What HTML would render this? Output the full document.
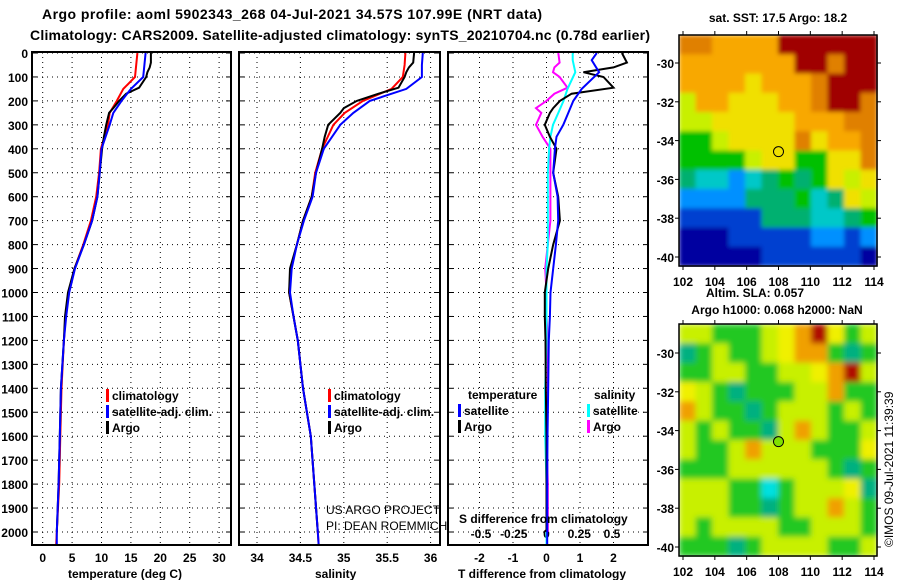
<!DOCTYPE html>
<html><head><meta charset="utf-8">
<style>
body{margin:0;background:#fff;}
svg{display:block;font-family:"Liberation Sans",sans-serif;}
.b{font-weight:bold;font-size:12px;}
.t{font-weight:bold;font-size:14px;}
</style></head>
<body>
<svg id="s" width="900" height="580" viewBox="0 0 900 580">
<defs>
<filter id="blur" x="0" y="0" width="1" height="1"><feGaussianBlur stdDeviation="3" edgeMode="duplicate"/></filter>
<filter id="blur2" x="0" y="0" width="1" height="1"><feGaussianBlur stdDeviation="2" edgeMode="duplicate"/></filter>
</defs>
<text class="t" x="42" y="19" textLength="500">Argo profile: aoml 5902343_268 04-Jul-2021 34.57S 107.99E (NRT data)</text>
<text class="t" x="30" y="40" textLength="620">Climatology: CARS2009. Satellite-adjusted climatology: synTS_20210704.nc (0.78d earlier)</text>
</svg>
<script>
const NS='http://www.w3.org/2000/svg';
const svg=document.getElementById('s');
function el(tag,attrs,parent){const e=document.createElementNS(NS,tag);for(const k in attrs)e.setAttribute(k,attrs[k]);(parent||svg).appendChild(e);return e;}
function txt(x,y,s,cls,anchor,parent){const e=el('text',{x:x,y:y,class:cls||'b','text-anchor':anchor||'start'},parent);e.textContent=s;return e;}

// ---------- data ----------
const depthTicks=[0,100,200,300,400,500,600,700,800,900,1000,1100,1200,1300,1400,1500,1600,1700,1800,1900,2000];
const tempTicks=[0,5,10,15,20,25,30];
const salTicks=[34,34.5,35,35.5,36];
const tdiffTicks=[-2,-1,0,1,2];
const sdiffTicks=[-0.5,-0.25,0,0.25,0.5];

const climDepth=[0,50,100,150,200,250,300,400,500,600,700,800,900,1000,1100,1200,1400,1600,1800,2000,2050];
const tempClim=[16.1,15.9,15.7,13.7,12.6,11.4,11.1,9.9,9.6,9.1,8.2,6.9,5.4,4.4,3.9,3.6,3.2,3.0,2.8,2.4,2.3];
const tempSat=[17.5,17.3,17.1,15.0,13.4,12.0,11.4,10.0,9.7,9.3,8.4,7.0,5.5,4.5,4.0,3.6,3.1,2.9,2.7,2.4,2.4];
const salClim=[35.71,35.70,35.68,35.55,35.22,35.01,34.88,34.75,34.67,34.63,34.53,34.46,34.39,34.37,34.42,34.47,34.53,34.62,34.66,34.70,34.71];
const salSat=[35.91,35.90,35.90,35.72,35.30,35.11,34.96,34.77,34.68,34.64,34.54,34.46,34.40,34.38,34.42,34.47,34.53,34.62,34.66,34.70,34.71];

const argoDepth=[0,40,60,80,100,145,170,200,230,250,300,350,400,500,600,700,800,900,1000,1100,1200,1400,1600,1800,2000];
const tempArgo=[18.4,18.4,18.2,17.8,17.6,16.4,14.2,13.0,12.0,11.3,10.8,10.4,10.1,9.7,9.3,8.4,7.0,5.4,4.3,3.8,3.6,3.1,2.9,2.7,2.4];
const salArgo=[35.81,35.80,35.75,35.72,35.70,35.63,35.40,35.15,35.00,34.96,34.82,34.78,34.75,34.68,34.63,34.53,34.46,34.38,34.37,34.42,34.47,34.53,34.62,34.66,34.70];

const diffDepth=[0,30,80,150,200,250,300,350,400,500,600,700,800,900,1000,1100,1200,1400,1600,1800,2000,2050];
const tdiffSat=[1.5,1.35,1.57,1.05,0.8,0.65,0.5,0.3,0.25,0.2,0.33,0.35,0.28,0.2,0.12,0.1,0.07,0.05,0.03,0.02,0.02,0.02];
const sdiffSat=[0.2,0.2,0.22,0.16,0.13,0.09,0.05,0.03,0.02,0.01,0.01,0.01,0.01,0.0,0.0,0.0,0.0,-0.01,-0.01,0.0,0.0,0.0];
const argoDiffDepth=[0,40,60,80,100,145,170,200,230,250,300,350,400,500,600,700,800,900,1000,1100,1200,1400,1600,1800,2000];
const tdiffArgo=[2.25,2.4,2.0,1.1,1.7,2.0,0.75,0.4,0.2,0.1,-0.05,0.1,0.3,0.2,0.35,0.4,0.2,0.05,-0.05,-0.05,-0.03,-0.02,0.0,0.0,0.0];
const sdiffArgo=[0.09,0.1,0.06,0.05,0.1,0.16,0.06,0.0,-0.08,-0.04,-0.08,-0.03,0.03,0.03,0.03,0.03,0.01,-0.01,0.0,0.0,0.01,0.01,0.0,0.01,0.01];

// ---------- axes ----------
const Y0=52,Y1=545;
const yD=d=>53+d*0.2395;
const xT=v=>42.7+v*5.88;
const xS=v=>257+(v-34)*86.8;
const xTd=v=>546.5+v*33.5;
const xSd=v=>546.5+v*131;
const panels=[[32,231,'temperature-panel'],[239,440,'salinity-panel'],[448,648,'difference-panel']];

function dotted(x1,y1,x2,y2){el('line',{x1,y1,x2,y2,stroke:'#000','stroke-width':1,'stroke-dasharray':'1,4'});}
function series(xs,ds,xf,color,name){
  let d='';xs.forEach((v,i)=>{const x=xf(v),y=yD(ds[i]);d+=(i?'L':'M')+x.toFixed(1)+','+y.toFixed(1);});
  const p=el('path',{d:d,fill:'none',stroke:color,'stroke-width':2});
  
  
}

panels.forEach(([a,b,name])=>{
  depthTicks.forEach(d=>{dotted(a,yD(d),b,yD(d));el('line',{x1:a,y1:yD(d),x2:a+5,y2:yD(d),stroke:'#000'});el('line',{x1:b-5,y1:yD(d),x2:b,y2:yD(d),stroke:'#000'});});
});
tempTicks.forEach(v=>{dotted(xT(v),Y0,xT(v),Y1);const t=txt(xT(v),562,String(v),'b','middle');});
salTicks.forEach(v=>{dotted(xS(v),Y0,xS(v),Y1);const t=txt(xS(v),562,String(v),'b','middle');});
tdiffTicks.forEach(v=>{dotted(xTd(v),Y0,xTd(v),Y1);const t=txt(xTd(v),562,String(v),'b','middle');});
sdiffTicks.forEach(v=>{const t=txt(xSd(v),538,String(v),'b','middle');});
depthTicks.forEach(d=>{const t=txt(28,yD(d)+5,String(d),'b','end');});

series(tempClim,climDepth,xT,'#f00','temp-climatology-line');
series(tempArgo,argoDepth,xT,'#000','temp-argo-line');
series(tempSat,climDepth,xT,'#00f','temp-satellite-line');
series(salClim,climDepth,xS,'#f00','sal-climatology-line');
series(salArgo,argoDepth,xS,'#000','sal-argo-line');
series(salSat,climDepth,xS,'#00f','sal-satellite-line');
series(sdiffArgo,argoDiffDepth,xSd,'#f0f','sdiff-argo-line');
series(sdiffSat,diffDepth,xSd,'#0ff','sdiff-satellite-line');
series(tdiffArgo,argoDiffDepth,xTd,'#000','tdiff-argo-line');
series(tdiffSat,diffDepth,xTd,'#00f','tdiff-satellite-line');

panels.forEach(([a,b,name])=>{const r=el('rect',{x:a,y:Y0,width:b-a,height:Y1-Y0,fill:'none',stroke:'#000','stroke-width':2});});

function legend(x,y,color,label){el('rect',{x:x,y:y-11,width:3,height:13,fill:color});txt(x+6,y,label);}
legend(106,400,'#f00','climatology');legend(106,416,'#00f','satellite-adj. clim.');legend(106,432,'#000','Argo');
legend(328,400,'#f00','climatology');legend(328,416,'#00f','satellite-adj. clim.');legend(328,432,'#000','Argo');
txt(468,399,'temperature');txt(594,399,'salinity');
legend(458,415,'#00f','satellite');legend(458,431,'#000','Argo');
legend(587,415,'#0ff','satellite');legend(587,431,'#f0f','Argo');
el('text',{x:326,y:514,'font-size':'12px'}).textContent='US ARGO PROJECT';
el('text',{x:326,y:530,'font-size':'12px'}).textContent='PI: DEAN ROEMMICH';
txt(459,523,'S difference from climatology');
txt(68,578,'temperature (deg C)');txt(315,578,'salinity');txt(458,578,'T difference from climatology');

// ---------- maps ----------
const sstRows=["ooOOOORRRRRR","OOOOOOORRoRR","OOOOYOOOoRRR","yOOYYYOOoRRo","yyYYYYYOOOoo","GGyYYYYoYOOo","GGGGyYYGGYYo","gCCBCgGgGYyY","BBBBgggGCgYy","bbbbbgggCCgG","NNNbbbbbBBbB","NNNNNbbbbbbN"];
const sstColors={R:'#a00000',o:'#e08000',O:'#f8a800',Y:'#f0e000',y:'#c8f000',G:'#00c000',g:'#00b070',C:'#00c8c8',B:'#0090ff',b:'#0040d0',N:'#0000a0'};
const slaRows=["yyGGGyYORYGy","gGyGGyYOOGgG","GGyyGGyyYORy","YyGgGGGyyOGG","OyGGgGyyyGyG","yGyGGgyOyGGy","yGGyOyyyGGGY","GGGyyyyyyGgG","yyyGGCGyyyYg","yyyGGgGyyOyG","yGyyyyGGyyyG","GGGgGyyyyGGy"];
const slaColors={y:'#c8f000',Y:'#f0f000',G:'#20c820',g:'#00b080',C:'#00e0e0',O:'#f0a000',R:'#b01000'};
const lonTicks=[102,104,106,108,110,112,114];
const latTicks=[-30,-32,-34,-36,-38,-40];
const argoLon=108,argoLat=-34.57;

function map(top,bottom,lat30,lat40,rows,colors,name,fillMarker,filt){
  const L=679,R=877;
  const g=el('g',{filter:filt});
  const cw=(R-L)/12,ch=(bottom-top)/rows.length;
  rows.forEach((r,i)=>{[...r].forEach((c,j)=>{el('rect',{x:L+j*cw,y:top+i*ch,width:cw+0.6,height:ch+0.6,fill:colors[c]},g);});});
  const xL=v=>683+(v-102)*(874-683)/12;
  const yL=v=>lat30+(-30-v)*(lat40-lat30)/10;
  el('rect',{x:L,y:top,width:R-L,height:bottom-top,fill:'none',stroke:'#000','stroke-width':1.5});
  lonTicks.forEach(v=>{el('line',{x1:xL(v),y1:bottom,x2:xL(v),y2:bottom+4,stroke:'#000'});el('line',{x1:xL(v),y1:top-4,x2:xL(v),y2:top,stroke:'#000'});txt(xL(v),bottom+20,String(v),'b','middle');});
  latTicks.forEach(v=>{el('line',{x1:L-4,y1:yL(v),x2:L,y2:yL(v),stroke:'#000'});el('line',{x1:R,y1:yL(v),x2:R+4,y2:yL(v),stroke:'#000'});txt(L-5,yL(v)+5,String(v),'b','end');});
  const c=el('circle',{cx:xL(argoLon),cy:yL(argoLat),r:5,fill:fillMarker,stroke:'#000','stroke-width':1});
  
  
}
map(35,266,63,257,sstRows,sstColors,'sst-map','none','url(#blur2)');
map(324,556,353,547,slaRows,slaColors,'sla-map','#80e000','url(#blur)');
txt(778,22,'sat. SST: 17.5 Argo: 18.2','b','middle');
txt(755,297,'Altim. SLA: 0.057','b','middle');
txt(777,314,'Argo h1000: 0.068 h2000: NaN','b','middle');
const im=el('text',{x:0,y:0,'font-size':'12px',transform:'translate(893,547) rotate(-90)'});im.textContent='©IMOS 09-Jul-2021 11:39:39';
</script>
</body></html>
